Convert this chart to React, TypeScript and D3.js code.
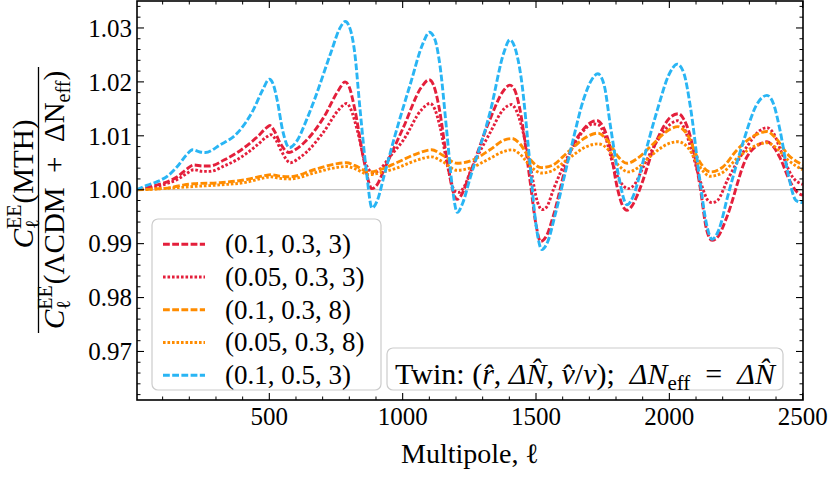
import React from "react";
import * as d3 from "d3";

const W = 830;
const H = 481;
const FONT = "Liberation Serif";

const xDomain: [number, number] = [2, 2500];
const yDomain: [number, number] = [0.961, 1.035];
const xMajorTicks = [500, 1000, 1500, 2000, 2500];
const yMajorTicks = [0.97, 0.98, 0.99, 1.0, 1.01, 1.02, 1.03];

const seriesLabels = ["(0.1, 0.3, 3)", "(0.05, 0.3, 3)", "(0.1, 0.3, 8)", "(0.05, 0.3, 8)", "(0.1, 0.5, 3)"];

type P = [number, number];

const redDashed: P[] = [
  [2, 1.0], [40, 1.0004], [80, 1.0009], [120, 1.0015], [155, 1.0024], [190, 1.0038], [217, 1.0046], [250, 1.0044],
  [277, 1.0044], [330, 1.0055], [380, 1.0069], [455, 1.0098], [490, 1.0115], [502, 1.0119], [520, 1.0108], [540, 1.0087],
  [574, 1.0069], [600, 1.0075], [630, 1.0087], [705, 1.0135], [760, 1.0185], [784, 1.02], [800, 1.019], [821, 1.0148],
  [854, 1.0056], [885, 1.0002], [905, 1.001], [930, 1.0037], [1004, 1.0117], [1070, 1.019], [1099, 1.0204], [1115, 1.0195],
  [1136, 1.0154], [1166, 1.0056], [1190, 0.9995], [1204, 0.9982], [1220, 0.999], [1252, 1.003], [1327, 1.013], [1380, 1.0185],
  [1402, 1.0194], [1420, 1.0185], [1440, 1.0148], [1477, 1.0019], [1500, 0.9935], [1517, 0.9904], [1540, 0.9915], [1564, 0.995],
  [1627, 1.0069], [1676, 1.0111], [1710, 1.0126], [1730, 1.0128], [1750, 1.0118], [1777, 1.008], [1802, 1.001], [1825, 0.997],
  [1841, 0.9962], [1860, 0.997], [1880, 0.999], [1954, 1.0093], [2005, 1.0135], [2034, 1.0141], [2055, 1.013], [2078, 1.01],
  [2115, 1.0006], [2140, 0.9925], [2160, 0.9906], [2185, 0.9915], [2216, 0.995], [2291, 1.0061], [2340, 1.0085], [2366, 1.0089],
  [2390, 1.008], [2416, 1.0058], [2453, 1.0015], [2480, 0.9995], [2500, 0.999],
];

const redDotted: P[] = [
  [2, 1.0], [40, 1.0003], [80, 1.0006], [120, 1.0012], [155, 1.0019], [190, 1.003], [217, 1.0037], [250, 1.0034],
  [277, 1.0034], [330, 1.0044], [380, 1.0056], [455, 1.0083], [490, 1.0098], [506, 1.0102], [525, 1.0092], [545, 1.0072],
  [579, 1.005], [610, 1.0058], [640, 1.007], [705, 1.0108], [760, 1.0148], [790, 1.016], [805, 1.015], [830, 1.011],
  [860, 1.005], [891, 1.0031], [915, 1.0038], [950, 1.006], [1004, 1.0093], [1070, 1.0148], [1103, 1.016], [1120, 1.015],
  [1140, 1.0117], [1170, 1.004], [1195, 0.9998], [1210, 0.9995], [1230, 1.0005], [1255, 1.0035], [1327, 1.0105], [1380, 1.015],
  [1408, 1.0158], [1425, 1.0148], [1450, 1.011], [1480, 1.004], [1505, 0.9978], [1522, 0.9963], [1540, 0.9968], [1565, 1.0],
  [1627, 1.0069], [1676, 1.0108], [1715, 1.0122], [1735, 1.012], [1760, 1.0098], [1790, 1.0045], [1820, 1.0012], [1845, 1.0002],
  [1870, 1.001], [1900, 1.004], [1954, 1.009], [2005, 1.0122], [2030, 1.0128], [2055, 1.0115], [2085, 1.007], [2120, 1.001],
  [2145, 0.998], [2160, 0.9976], [2180, 0.998], [2220, 1.002], [2291, 1.008], [2340, 1.011], [2366, 1.0115], [2390, 1.0105],
  [2420, 1.007], [2460, 1.0025], [2500, 1.001],
];

const orangeDashed: P[] = [
  [2, 1.0], [60, 1.0001], [129, 1.0004], [180, 1.0009], [217, 1.0011], [315, 1.0013], [416, 1.0019], [480, 1.0026],
  [506, 1.0028], [540, 1.0025], [579, 1.0024], [667, 1.0037], [750, 1.0048], [790, 1.005], [820, 1.0045], [877, 1.0033],
  [920, 1.0038], [977, 1.005], [1060, 1.0068], [1108, 1.0074], [1150, 1.0064], [1204, 1.0049], [1252, 1.0053], [1327, 1.0074],
  [1380, 1.0092], [1410, 1.0095], [1440, 1.0085], [1480, 1.0055], [1520, 1.0041], [1560, 1.0045], [1620, 1.007], [1690, 1.0098],
  [1732, 1.0105], [1770, 1.009], [1810, 1.006], [1841, 1.0049], [1880, 1.0058], [1929, 1.008], [1995, 1.011], [2032, 1.0117],
  [2070, 1.01], [2110, 1.0055], [2154, 1.0033], [2200, 1.0042], [2254, 1.0074], [2330, 1.0103], [2366, 1.0108], [2400, 1.0095],
  [2445, 1.0065], [2500, 1.0046],
];

const orangeDotted: P[] = [
  [2, 1.0], [60, 1.0001], [129, 1.0003], [217, 1.0006], [315, 1.0009], [416, 1.0014], [480, 1.0022], [506, 1.0024],
  [540, 1.0021], [579, 1.002], [667, 1.0031], [750, 1.0041], [790, 1.0043], [820, 1.0039], [877, 1.0028], [920, 1.0032],
  [977, 1.004], [1060, 1.0056], [1108, 1.0061], [1150, 1.0052], [1204, 1.0036], [1252, 1.004], [1327, 1.0058], [1380, 1.0071],
  [1410, 1.0074], [1440, 1.0066], [1480, 1.0043], [1522, 1.0031], [1560, 1.0035], [1620, 1.0057], [1690, 1.008], [1732, 1.0085],
  [1770, 1.0075], [1810, 1.0045], [1847, 1.0033], [1880, 1.004], [1929, 1.0062], [1995, 1.0085], [2032, 1.0089], [2070, 1.0078],
  [2110, 1.0045], [2154, 1.0025], [2200, 1.0032], [2254, 1.0058], [2330, 1.0083], [2366, 1.0087], [2400, 1.0078], [2445, 1.0055],
  [2500, 1.0037],
];

const blueDashed: P[] = [
  [2, 1.0], [40, 1.0008], [80, 1.0015], [120, 1.0026], [155, 1.0043], [190, 1.0065], [212, 1.0074], [240, 1.007],
  [260, 1.0069], [315, 1.0083], [380, 1.0105], [440, 1.0148], [475, 1.0185], [500, 1.0205], [515, 1.0195], [530, 1.0165],
  [550, 1.011], [575, 1.0078], [600, 1.0088], [640, 1.013], [670, 1.0168], [730, 1.0253], [765, 1.03], [785, 1.0312],
  [805, 1.0295], [820, 1.0255], [840, 1.015], [865, 1.003], [885, 0.9966], [905, 0.998], [930, 1.0025], [967, 1.0093],
  [1030, 1.0198], [1075, 1.027], [1100, 1.0292], [1120, 1.028], [1140, 1.023], [1165, 1.011], [1185, 1.001], [1205, 0.9958],
  [1225, 0.9975], [1252, 1.002], [1330, 1.0148], [1380, 1.0255], [1402, 1.0278], [1420, 1.0265], [1445, 1.0205], [1477, 1.005],
  [1500, 0.9935], [1522, 0.9889], [1545, 0.9905], [1570, 0.995], [1630, 1.0074], [1680, 1.017], [1710, 1.0205], [1732, 1.0215],
  [1755, 1.0195], [1780, 1.0115], [1810, 1.0025], [1841, 0.9972], [1870, 0.9995], [1900, 1.005], [1955, 1.0148], [2000, 1.0215],
  [2030, 1.0233], [2055, 1.0215], [2080, 1.015], [2115, 1.0015], [2140, 0.9935], [2160, 0.9908], [2185, 0.9925], [2220, 0.999],
  [2276, 1.0087], [2330, 1.016], [2366, 1.0175], [2390, 1.016], [2415, 1.011], [2445, 1.003], [2475, 0.998], [2500, 0.9976],
];

const seriesData: P[][] = [redDashed, redDotted, orangeDashed, orangeDotted, blueDashed];

const RED = "#e41f3b";
const ORANGE = "#ff8c00";
const BLUE = "#29b5f4";
const DASH = "6.8,2.4";
const DOT = "2.6,1.9";
const seriesStyle = [
  { color: RED, dash: DASH },
  { color: RED, dash: DOT },
  { color: ORANGE, dash: DASH },
  { color: ORANGE, dash: DOT },
  { color: BLUE, dash: DASH },
];

const L = 137, R = 803, T = 1, B = 400;

export default function App() {
  const x = d3.scaleLinear().domain(xDomain).range([136.5, 802.7]);
  const y = d3.scaleLinear().domain(yDomain).range([B, T]);
  const line = d3.line<P>().x((d) => x(d[0])).y((d) => y(d[1])).curve(d3.curveMonotoneX);
  const minorX = d3.range(100, 2501, 100).filter((v) => v % 500 !== 0);
  const minorY = d3.range(962, 1035, 2).map((v) => v / 1000).filter((v) => Math.round(v * 1000) % 10 !== 0);
  const fmtY = d3.format(".2f");

  const FS = 29, SS = 20;
  const wEE = 2 * 0.611 * SS;
  const wl = 0.42 * SS;
  const txt = (size: number): React.CSSProperties => ({ fontFamily: FONT, fontSize: `${size}px` });

  const ClsPart = () => (
    <>
      <tspan style={{ fontStyle: "italic" }}>C</tspan>
      <tspan style={{ fontSize: `${SS}px` }} dy={-12}>EE</tspan>
      <tspan style={{ fontSize: `${SS}px` }} dx={-wEE} dy={18}>ℓ</tspan>
    </>
  );

  return (
    <svg width={W} height={H} style={{ position: "absolute", left: 0, top: 0, background: "#fff" }}>
      <defs>
        <clipPath id="plotclip">
          <rect x={L} y={T} width={R - L} height={B - T} />
        </clipPath>
      </defs>

      <line x1={L} x2={R} y1={y(1)} y2={y(1)} stroke="#c4c4c4" strokeWidth={1.3} />

      <g clipPath="url(#plotclip)">
        {seriesData.map((data, i) => (
          <path key={i} d={line(data) || ""} fill="none" stroke={seriesStyle[i].color} strokeWidth={2.9}
            strokeDasharray={seriesStyle[i].dash} />
        ))}
      </g>

      {xMajorTicks.map((v) => (
        <g key={`xm${v}`}>
          <line x1={x(v)} x2={x(v)} y1={B} y2={B - 7} stroke="#000" strokeWidth={1.1} />
          <line x1={x(v)} x2={x(v)} y1={T} y2={T + 7} stroke="#000" strokeWidth={1.1} />
          <text x={x(v)} y={425} textAnchor="middle" style={txt(25)}>{v}</text>
        </g>
      ))}
      {minorX.map((v) => (
        <g key={`xn${v}`}>
          <line x1={x(v)} x2={x(v)} y1={B} y2={B - 3.5} stroke="#000" strokeWidth={1} />
          <line x1={x(v)} x2={x(v)} y1={T} y2={T + 3.5} stroke="#000" strokeWidth={1} />
        </g>
      ))}
      {yMajorTicks.map((v) => (
        <g key={`ym${v}`}>
          <line x1={L} x2={L + 7} y1={y(v)} y2={y(v)} stroke="#000" strokeWidth={1.1} />
          <line x1={R} x2={R - 7} y1={y(v)} y2={y(v)} stroke="#000" strokeWidth={1.1} />
          <text x={L - 5} y={y(v)} dy="0.35em" textAnchor="end" style={txt(25)}>{fmtY(v)}</text>
        </g>
      ))}
      {minorY.map((v) => (
        <g key={`yn${v}`}>
          <line x1={L} x2={L + 3.5} y1={y(v)} y2={y(v)} stroke="#000" strokeWidth={1} />
          <line x1={R} x2={R - 3.5} y1={y(v)} y2={y(v)} stroke="#000" strokeWidth={1} />
        </g>
      ))}

      <rect x={L} y={T} width={R - L} height={B - T} fill="none" stroke="#000" strokeWidth={1.6} />

      <text x={(L + R) / 2} y={463} textAnchor="middle" style={txt(28)}>Multipole, ℓ</text>

      <text transform="translate(33,184) rotate(-90)" textAnchor="middle" style={txt(FS)}>
        <ClsPart />
        <tspan dx={wEE - wl} dy={-6}>(MTH)</tspan>
      </text>
      <line x1={38.5} x2={38.5} y1={67} y2={333} stroke="#000" strokeWidth={1.3} />
      <text transform="translate(64,200) rotate(-90)" textAnchor="middle" style={txt(FS)}>
        <ClsPart />
        <tspan dx={wEE - wl} dy={-6}>(ΛCDM{"\u2002"}+{"\u2002"}ΔN</tspan>
        <tspan style={{ fontSize: `${SS}px` }} dy={6}>eff</tspan>
        <tspan dy={-6}>)</tspan>
      </text>

      <rect x={152} y={219} width={229} height={171} rx={6} fill="#fff" fillOpacity={0.8} stroke="#cccccc" strokeWidth={1.2} />
      {seriesLabels.map((lab, i) => {
        const yy = 244.3 + i * 32.75;
        return (
          <g key={`lg${i}`}>
            <line x1={163} x2={205} y1={yy} y2={yy} stroke={seriesStyle[i].color} strokeWidth={2.9}
              strokeDasharray={seriesStyle[i].dash} />
            <text x={225} y={yy + 8.8} style={txt(27)}>{lab}</text>
          </g>
        );
      })}

      <rect x={387} y={348} width={396} height={42} rx={6} fill="#fff" fillOpacity={0.8} stroke="#cccccc" strokeWidth={1.2} />
      <text x={585} y={384} textAnchor="middle" style={txt(30)}>
        <tspan>Twin: (</tspan>
        <tspan style={{ fontStyle: "italic" }}>{"r\u0302"}</tspan>
        <tspan>, </tspan>
        <tspan style={{ fontStyle: "italic" }}>{"ΔN\u0302"}</tspan>
        <tspan>, </tspan>
        <tspan style={{ fontStyle: "italic" }}>{"v\u0302"}</tspan>
        <tspan>/</tspan>
        <tspan style={{ fontStyle: "italic" }}>v</tspan>
        <tspan>{");\u00a0\u00a0"}</tspan>
        <tspan style={{ fontStyle: "italic" }}>ΔN</tspan>
        <tspan style={{ fontSize: "21px" }} dy={6}>eff</tspan>
        <tspan dy={-6}>{"\u2002=\u2002"}</tspan>
        <tspan style={{ fontStyle: "italic" }}>{"ΔN\u0302"}</tspan>
      </text>
    </svg>
  );
}
